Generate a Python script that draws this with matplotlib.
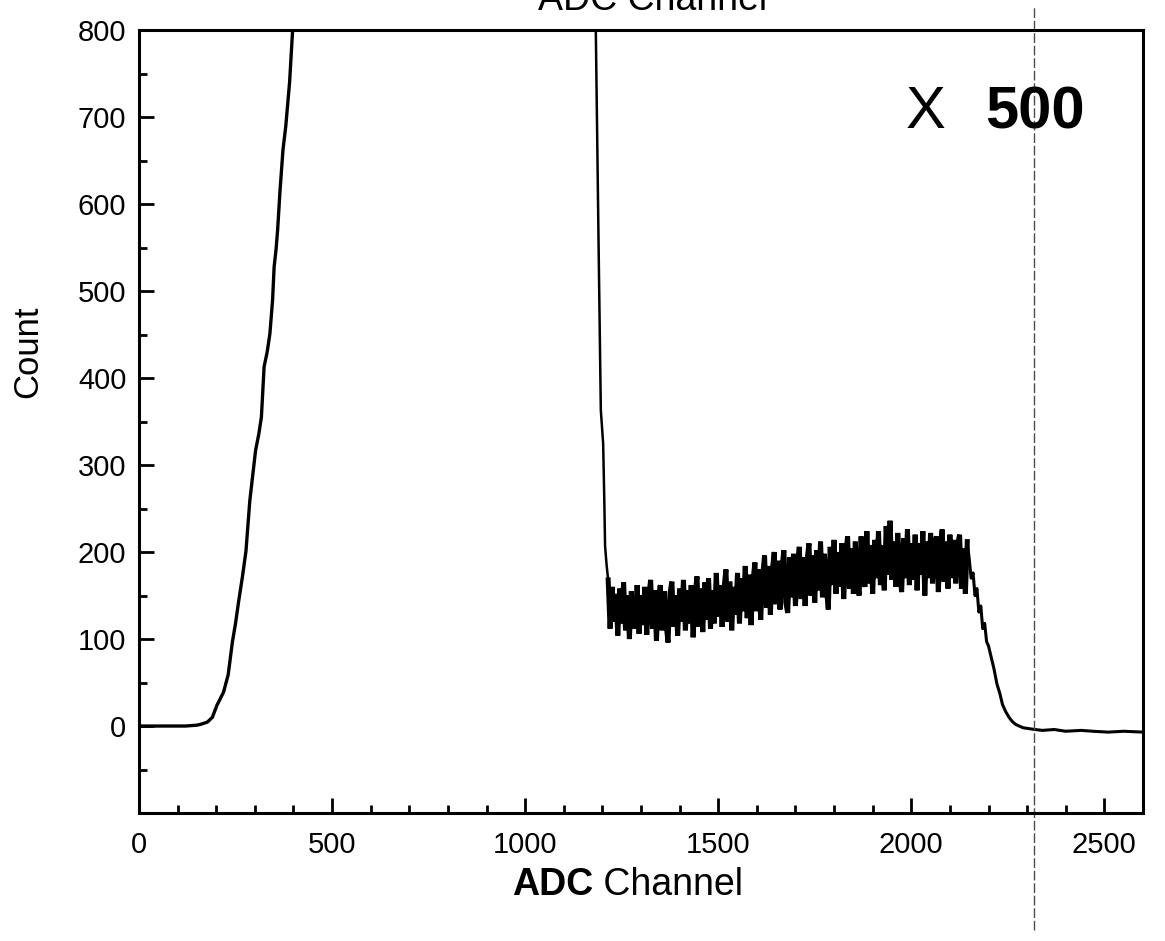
import numpy as np
import matplotlib.pyplot as plt
from matplotlib.ticker import MultipleLocator

# left (main) peak, rising edge - goes off the top of the plot
left_ch = [0, 60, 120, 150, 160, 177, 190, 202, 210, 219, 231, 242, 250, 258,
           268, 277, 287, 295, 302, 310, 317, 324, 332, 339, 346, 350, 355, 359,
           365, 373, 380, 390, 398, 405]
left_cnt = [0, 0, 0, 1, 2, 4.5, 10, 24, 31, 39, 59, 97, 118, 143,
            172, 201, 259, 290, 317, 335, 355, 413, 430, 451, 490, 528, 548, 570,
            614, 663, 689, 740, 801, 860]

# falling edge of the big peak
edge_ch = [1180, 1183, 1190, 1196, 1202, 1205, 1207, 1211]
edge_cnt = [860, 800, 560, 363, 325, 260, 207, 185]

# noisy continuum, one value every 5 channels from 1215
noise_start = 1215
noise_step = 5
noise_cnt = [
    168, 112, 160, 120, 152, 104, 158, 118, 165, 110,
    150, 100, 155, 122, 112, 162, 106, 150, 116, 160,
    105, 148, 168, 112, 156, 98, 146, 162, 110, 155,
    118, 96, 152, 166, 114, 150, 104, 158, 120, 168,
    110, 156, 118, 162, 102, 150, 172, 114, 158, 108,
    165, 122, 170, 112, 156, 118, 176, 126, 162, 114,
    158, 180, 120, 166, 110, 160, 128, 176, 118, 170,
    132, 184, 124, 174, 116, 166, 188, 132, 180, 122,
    172, 196, 136, 184, 128, 178, 200, 140, 190, 134,
    180, 202, 142, 130, 194, 148, 198, 138, 186, 206,
    146, 194, 138, 190, 210, 150, 196, 142, 202, 156,
    212, 148, 198, 160, 134, 206, 162, 214, 152, 200,
    160, 210, 146, 196, 218, 158, 204, 152, 212, 166,
    150, 218, 172, 160, 224, 164, 208, 152, 214, 170,
    224, 162, 208, 156, 230, 174, 236, 168, 212, 160,
    222, 176, 154, 216, 170, 226, 162, 210, 168, 220,
    156, 210, 174, 224, 150, 212, 170, 222, 164, 208,
    218, 154, 206, 226, 166, 212, 158, 220, 170, 214,
    164, 208, 220, 158, 204, 152, 212,
]

# drop-off and flat tail
tail_ch = [2150, 2155, 2160, 2165, 2170, 2175, 2180, 2185, 2190, 2195, 2200,
           2207, 2214, 2222, 2229, 2236, 2244, 2253, 2262, 2270, 2279, 2290,
           2305, 2320, 2340, 2370, 2400, 2440, 2470, 2510, 2550, 2600]
tail_cnt = [192, 170, 176, 150, 158, 131, 138, 112, 118, 97, 92,
            79, 66, 48, 38, 25, 17, 10, 5, 2, 0, -2,
            -3, -4, -5, -4, -6, -5, -6, -7, -6, -7]

xticks = [0, 500, 1000, 1500, 2000, 2500]
yticks = [0, 100, 200, 300, 400, 500, 600, 700, 800]
scan_line_x = 2318  # copier streak

plt.rcParams['font.family'] = ['Liberation Sans', 'DejaVu Sans']

fig = plt.figure(figsize=(11.65, 9.41), dpi=100)
ax = fig.add_axes([0.1193, 0.136, 0.8618, 0.832])

noise_ch = noise_start + noise_step * np.arange(len(noise_cnt))

ax.plot(left_ch, left_cnt, color='black', lw=2.4)
ax.plot(edge_ch + [noise_start], edge_cnt + [noise_cnt[0]], color='black', lw=1.8)
ax.plot(noise_ch, noise_cnt, color='black', lw=3.6, solid_joinstyle='miter')
ax.plot([noise_ch[-1]] + tail_ch, [noise_cnt[-1]] + tail_cnt, color='black', lw=2.2)

ax.axvline(scan_line_x, ymin=-0.15, ymax=1.03, clip_on=False,
           color='0.3', lw=1.0, ls=(0, (7, 2)))

ax.set_xlim(0, 2600)
ax.set_ylim(-100, 800)
ax.set_xticks(xticks)
ax.set_yticks(yticks)
ax.xaxis.set_minor_locator(MultipleLocator(100))
ax.yaxis.set_minor_locator(MultipleLocator(50))
ax.tick_params(which='both', direction='in', top=False, right=False,
               width=2, labelsize=21, colors='black')
ax.tick_params(which='major', length=11)
ax.tick_params(which='minor', length=6)
ax.tick_params(axis='x', pad=13)
ax.tick_params(axis='y', pad=9)
for sp in ax.spines.values():
    sp.set_linewidth(2.2)

ax.text(1985, 705, 'X', fontsize=43, ha='left', va='center')
ax.text(2450, 705, '500', fontsize=43, fontweight='bold', ha='right', va='center')

# axis labels
fig.text(0.509, 0.049, 'ADC', fontsize=27, fontweight='bold', ha='right', va='baseline')
fig.text(0.509, 0.049, ' Channel', fontsize=27, ha='left', va='baseline')
fig.text(28 / 1165, 1 - 352 / 941, 'Count', fontsize=25, rotation=90,
         ha='center', va='center')
# title, cut off by the top of the page as in the scan
fig.text(0.56, 1 - 10 / 941, 'ADC Channel', fontsize=27, ha='center', va='baseline')

fig.savefig('out.png', dpi=100)
